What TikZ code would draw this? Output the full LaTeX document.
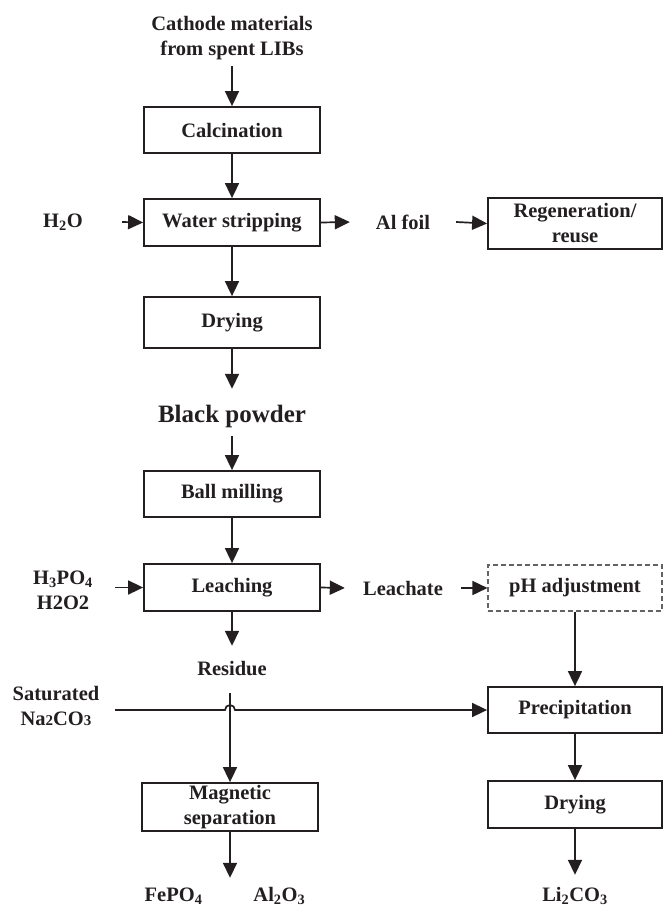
\documentclass[tikz,border=0pt]{standalone}
\usepackage{fontspec}
\setmainfont{Liberation Serif}
\usetikzlibrary{arrows.meta}
\definecolor{ink}{HTML}{231F20}
\newcommand{\smalldig}[1]{{\fontsize{15}{15}\selectfont #1}}
\begin{document}
\begin{tikzpicture}[x=1pt,y=-1pt,
  every node/.style={font=\fontsize{20.5}{25}\selectfont\bfseries, text=ink},
  box/.style={draw=ink, line width=1.8pt, minimum width=176pt, inner sep=0pt, align=center},
  rbox/.style={box, minimum width=174pt},
  lbl/.style={inner sep=0pt, align=center},
  arr/.style={draw=ink, line width=1.7pt, -{Triangle[length=15pt,width=14pt]}}]
\useasboundingbox (0,0) rectangle (663,908);

% left column
\node[lbl, anchor=north] (cathode) at (232,16.5) {Cathode materials\\from spent LIBs};
\node[box, minimum height=46pt] (calc) at (232,130) {Calcination};
\node[box, minimum height=47pt] (water) at (232,222.5) {Water stripping};
\node[box, minimum height=51pt] (dry1) at (232,322.5) {Drying};
\node[lbl, anchor=base, font=\fontsize{25}{30}\selectfont\bfseries, text height=33pt, text depth=14pt] (black) at (232,422) {Black powder};
\node[box, minimum height=46pt] (ball) at (232,494) {Ball milling};
\node[box, minimum height=47pt] (leach) at (232,587.5) {Leaching};
\node[lbl, anchor=base, text height=29pt, text depth=18pt] (residue) at (232,675) {Residue};
\node[box, minimum height=48pt] (mag) at (230,807) {Magnetic\\separation};
\node[lbl, anchor=base, text height=23pt] (prod) at (225,901) {FePO\textsubscript{4}\hspace{51pt}Al\textsubscript{2}O\textsubscript{3}};

% side labels
\node[lbl, minimum width=118pt] (h2o) at (63,222) {H\textsubscript{2}O};
\node[lbl, minimum width=106pt] (alfoil) at (403,222) {Al foil};
\node[lbl, minimum width=104pt] (acid) at (63,590) {H\textsubscript{3}PO\textsubscript{4}\\H2O2};
\node[lbl, minimum width=116pt] (leachate) at (403,588) {Leachate};
\node[lbl, minimum width=118pt] (sat) at (56,706) {Saturated\\Na\smalldig{2}CO\smalldig{3}};

% right column
\node[rbox, minimum height=51pt] (regen) at (575,223.5) {Regeneration/\\reuse};
\node[rbox, minimum height=46pt, draw=ink!70, line width=1.1pt, dash pattern=on 5pt off 3pt] (ph) at (575,588) {pH adjustment};
\node[rbox, minimum height=46pt] (precip) at (575,710) {Precipitation};
\node[rbox, minimum height=47pt] (dry2) at (575,804.5) {Drying};
\node[lbl, anchor=base, text height=26pt] (li) at (575,901) {Li\textsubscript{2}CO\textsubscript{3}};

% connectors
\draw[arr, shorten <=5.7pt] (cathode.south) -- (calc.north);
\draw[arr] (calc.south) -- (water.north);
\draw[arr] (h2o.east) -- (water.west);
\draw[arr] (water.east) -- (alfoil.west);
\draw[arr] (alfoil.east) -- (regen.west);
\draw[arr] (water.south) -- (dry1.north);
\draw[arr] (dry1.south) -- (black.north);
\draw[arr] (black.south) -- (ball.north);
\draw[arr] (ball.south) -- (leach.north);
\draw[arr] (acid.east |- leach.west) -- (leach.west);
\draw[arr] (leach.east) -- (leachate.west);
\draw[arr] (leachate.east) -- (ph.west);
\draw[arr] (leach.south) -- (residue.north);
\draw[arr] (mag.north |- residue.south) -- (mag.north);
\draw[arr] (sat.east |- precip.west) -- ([xshift=-5pt]mag.north |- precip.west)
  arc[start angle=180, end angle=0, radius=5pt] -- (precip.west);
\draw[arr] (ph.south) -- (precip.north);
\draw[arr] (precip.south) -- (dry2.north);
\draw[arr] (dry2.south) -- (li.north);
\draw[arr] (mag.south) -- (mag.south |- prod.north);
\end{tikzpicture}
\end{document}
